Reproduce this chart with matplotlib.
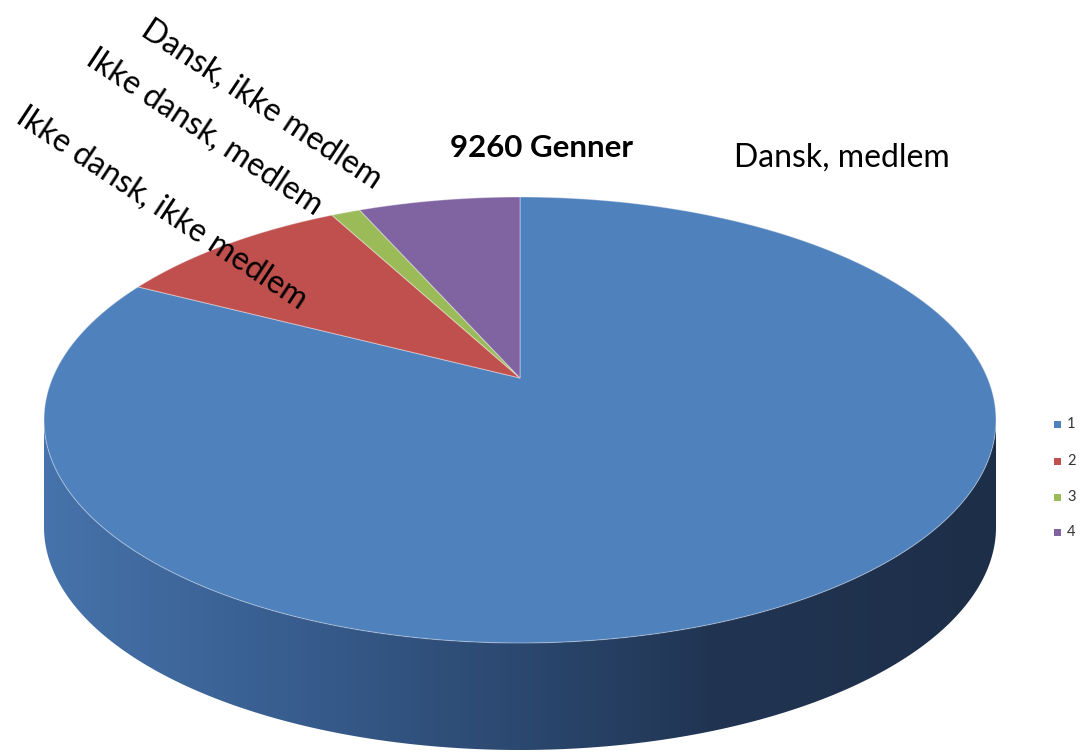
import numpy as np
import matplotlib.pyplot as plt
from matplotlib.patches import Polygon, Rectangle
from matplotlib.colors import LinearSegmentedColormap

# data
categories = ["1", "2", "3", "4"]
names = ["Dansk, medlem", "Ikke dansk, ikke medlem", "Ikke dansk, medlem", "Dansk, ikke medlem"]
counts = [7650, 890, 110, 610]
colors = ["#4f81bd", "#c0504d", "#9bbb59", "#8064a2"]
title = "9260 Genner"

plt.rcParams['font.family'] = ['Lato', 'DejaVu Sans']

fig = plt.figure(figsize=(10.82, 7.54), dpi=100)
ax = fig.add_axes([0, 0, 1, 1])
ax.set_xlim(0, 1082)
ax.set_ylim(754, 0)
ax.axis("off")

# 3d pie geometry (pixel space, perspective tilt)
cx, cy = 520, 378
A, B, k = 467.5, 215.1, 0.1883
depth = 107


def proj(t, dz=0):
    u, v = np.cos(t), np.sin(t)
    w = 1 + k * v
    return cx + A * u / w, cy - B * v / w + dz


# side wall (front half), shaded left to right
s = np.arcsin(k)
t_side = np.linspace(np.pi + s, 2 * np.pi - s, 300)
xt, yt = proj(t_side)
xb, yb = proj(t_side[::-1], depth)
side = Polygon(np.column_stack([np.r_[xt, xb], np.r_[yt, yb]]), closed=True,
               facecolor="none", edgecolor="none")
ax.add_patch(side)
side_cmap = LinearSegmentedColormap.from_list(
    "side", [(0, "#4673ab"), (0.27, "#375c8d"), (0.5, "#2b486f"), (0.7, "#213553"), (1, "#1d2e48")])
grad = np.linspace(0, 1, 400).reshape(1, -1)
im = ax.imshow(grad, cmap=side_cmap, extent=[xt.min(), xt.max(), yb.max(), yt.min()],
               aspect="auto", zorder=1)
im.set_clip_path(side)
ax.set_xlim(0, 1082)
ax.set_ylim(754, 0)

# top face slices, clockwise from 12 o'clock
total = sum(counts)
start = np.pi / 2
for val, col in zip(counts, colors):
    span = 2 * np.pi * val / total
    t = np.linspace(start, start - span, max(int(span * 80), 4))
    x, y = proj(t)
    pts = np.column_stack([np.r_[cx, x], np.r_[cy, y]])
    ax.add_patch(Polygon(pts, closed=True, facecolor=col, edgecolor=(1, 1, 1, 0.35),
                         linewidth=0.8, zorder=2))
    start -= span

# labels
ax.text(541, 148, title, fontsize=22.5, fontweight="bold", ha="center", va="center")
ax.text(842, 158, names[0], fontsize=23, ha="center", va="center")
label_pos = [(162, 208), (205, 132), (262, 104)]
for name, (lx, ly) in zip(names[1:], label_pos):
    ax.text(lx, ly, name, fontsize=23, rotation=-33.5, rotation_mode="anchor",
            ha="center", va="center", zorder=3)

# legend
leg_y = [424, 461, 497, 532]
for cat, col, ly in zip(categories, colors, leg_y):
    ax.add_patch(Rectangle((1054, ly - 3.5), 7, 7, facecolor=col, edgecolor="none"))
    ax.text(1067, ly, cat, fontsize=10.5, ha="left", va="center", color="#333333")

fig.savefig("out.png", dpi=100)
